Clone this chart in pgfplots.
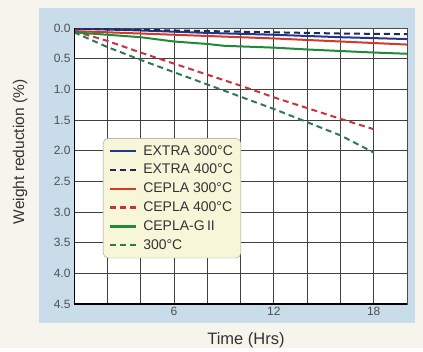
\documentclass[border=0pt]{standalone}
\usepackage{pgfplots}
\pgfplotsset{compat=1.18}
\usepackage{fontspec}
\setmainfont{Liberation Sans}
\definecolor{bgcream}{HTML}{F7F4EE}
\definecolor{panelblue}{HTML}{C8DCEA}
\definecolor{legfill}{HTML}{F8F6D8}
\definecolor{cblue}{HTML}{24358F}
\definecolor{cbluedash}{HTML}{1E2A5E}
\definecolor{cred}{HTML}{D23A2A}
\definecolor{creddash}{HTML}{C8333F}
\definecolor{cgreen}{HTML}{1F8A3A}
\definecolor{cgreendash}{HTML}{2E7A55}
\definecolor{tickgray}{HTML}{505050}
\definecolor{textgray}{HTML}{333333}
\begin{document}
\begin{tikzpicture}
\fill[bgcream] (0pt,0pt) rectangle (423pt,348pt);
\fill[panelblue] (39pt,25pt) rectangle (415pt,340pt);
\begin{axis}[
  at={(74pt,44pt)}, anchor=south west,
  scale only axis, width=333pt, height=276pt,
  xmin=0, xmax=20, ymin=0, ymax=4.5, y dir=reverse,
  xtick={2,4,6,8,10,12,14,16,18},
  xticklabels={,,6,,,12,,,18},
  ytick={0,0.5,1,1.5,2,2.5,3,3.5,4,4.5},
  yticklabel style={/pgf/number format/.cd,fixed,fixed zerofill,precision=1},
  /pgf/number format/assume math mode=true,
  ticklabel style={font=\fontsize{12}{13}\selectfont, text=tickgray},
  major tick length=0pt,
  grid=major,
  major grid style={draw=black!75, line width=0.7pt},
  axis line style={draw=black!70, line width=0.8pt},
  axis background/.style={fill=white},
  clip=true,
  legend style={at={(0.087,0.601)}, anchor=north west, fill=legfill, draw=black!40,
    rounded corners=5pt, font=\fontsize{14}{16}\selectfont, text=textgray,
    row sep=3.6pt, inner xsep=6pt, inner ysep=5pt},
  legend cell align=left,
  legend image code/.code={\draw[#1, line width=2.2pt] (0pt,0pt) -- (26pt,0pt); \path (30pt,0pt);},
]
\addplot[cblue, line width=2pt] coordinates {(0,0.01) (4,0.04) (8,0.08) (12,0.11) (16,0.15) (20,0.18)};
\addlegendentry{EXTRA 300\textdegree C}
\addplot[cbluedash, line width=2pt, dash pattern=on 6pt off 4pt] coordinates {(0,0.01) (4,0.03) (8,0.05) (12,0.07) (16,0.09) (20,0.10)};
\addlegendentry{EXTRA 400\textdegree C}
\addplot[cred, line width=2pt] coordinates {(0,0.05) (4,0.09) (8,0.13) (12,0.17) (16,0.22) (20,0.27)};
\addlegendentry{CEPLA 300\textdegree C}
\addplot[creddash, line width=2pt, dash pattern=on 6pt off 4pt] coordinates {(0,0.05) (2,0.21) (4,0.40) (10,0.94) (12,1.13) (16,1.48) (18,1.65)};
\addlegendentry{CEPLA 400\textdegree C}
\addplot[cgreen, line width=2pt] coordinates {(0,0.07) (2,0.11) (4,0.15) (6,0.22) (8,0.26) (9,0.29) (12,0.32) (14,0.35) (18,0.40) (20,0.42)};
\addlegendentry{CEPLA-G\,II}
\addplot[cgreendash, line width=2pt, dash pattern=on 6pt off 4pt] coordinates {(0,0.07) (2,0.31) (4,0.52) (8,0.92) (12,1.32) (16,1.75) (18,2.03)};
\addlegendentry{300\textdegree C}
\draw[black, line width=2pt] (rel axis cs:0,0) -- (rel axis cs:0,1);
\draw[black, line width=2pt] (rel axis cs:0,0) -- (rel axis cs:1,0);
\end{axis}
\node[rotate=90, font=\fontsize{15.5}{17}\selectfont, text=textgray] at (20pt,196pt) {Weight reduction (\%)};
\node[font=\fontsize{16.5}{18}\selectfont, text=textgray] at (246pt,8pt) {Time (Hrs)};
\end{tikzpicture}
\end{document}
